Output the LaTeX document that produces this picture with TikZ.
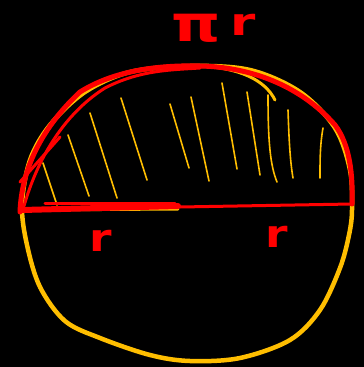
\documentclass[tikz,border=0pt]{standalone}
\usepackage{fontspec}
\setmainfont{DejaVu Sans}
\usepackage{xcolor}
\definecolor{ylw}{RGB}{255,190,0}
\definecolor{rd}{RGB}{255,0,0}
\begin{document}
\begin{tikzpicture}[x=1pt,y=-1pt,
  yline/.style={draw=ylw,line width=4.5pt,line cap=round,line join=round},
  hatch/.style={draw=ylw,line width=1.6pt,line cap=round},
  rline/.style={draw=rd,line width=5pt,line cap=round,line join=round},
  lbl/.style={text=rd,inner sep=0pt,font=\bfseries}]
\fill[black] (0,0) rectangle (364,367);
\useasboundingbox (0,0) rectangle (364,367);
% yellow circle
\draw[yline] plot[smooth cycle,tension=0.55] coordinates {(22,205) (30,160) (50,125) (85,92) (130,72) (190,66) (250,70) (300,92) (335,128) (350,170) (352,210) (349,235) (340,268) (320,310) (290,340) (240,358) (190,361) (150,355) (100,338) (65,321) (40,287) (27,245)};
\draw[yline,line width=3pt] (200,66) .. controls (240,68) and (265,80) .. (275,100);
% yellow diameter
\draw[yline,line width=3pt] (25,210) -- (178,209);
% hatching
\draw[hatch] (43,163) -- (57,205);
\draw[hatch] (68,135) -- (89,196);
\draw[hatch] (90,113) -- (117,198);
\draw[hatch] (121,98) -- (147,180);
\draw[hatch] (170,104) -- (189,168);
\draw[hatch] (191,97) -- (209,181);
\draw[hatch] (222,83) -- (237,169);
\draw[hatch] (247,92) -- (260,175);
\draw[hatch] (268,95) .. controls (268,140) and (270,165) .. (277,182);
\draw[hatch] (288,110) .. controls (289,140) and (290,160) .. (293,178);
\draw[hatch] (323,128) .. controls (320,145) and (320,160) .. (320,178);
% red outline
\draw[rline] (20,212) .. controls (22,160) and (50,120) .. (80,92) .. controls (115,70) and (160,65) .. (200,66) .. controls (250,67) and (300,85) .. (335,125) .. controls (350,145) and (353,175) .. (352,204);
\draw[rline,line width=3pt] (24,206) .. controls (40,150) and (70,110) .. (105,88) .. controls (140,70) and (170,70) .. (200,68);
\draw[rline,line width=3pt] (20,182) -- (60,137);
\draw[rline,line width=3pt] (352,204) -- (180,207);
\draw[rline,line width=6pt] (178,206) -- (22,210);
\draw[rline,line width=3pt] (45,203) -- (175,203);
% labels
\node[lbl,xscale=1.25] (pi) at (196,28) {\fontsize{50}{50}\selectfont π};
\node[lbl,xscale=1.35] (pr) at (243,25) {\fontsize{38}{38}\selectfont r};
\node[lbl,xscale=1.2] (r1) at (101,241) {\fontsize{38}{38}\selectfont r};
\node[lbl,xscale=1.2] (r2) at (277,237) {\fontsize{38}{38}\selectfont r};
\end{tikzpicture}
\end{document}
